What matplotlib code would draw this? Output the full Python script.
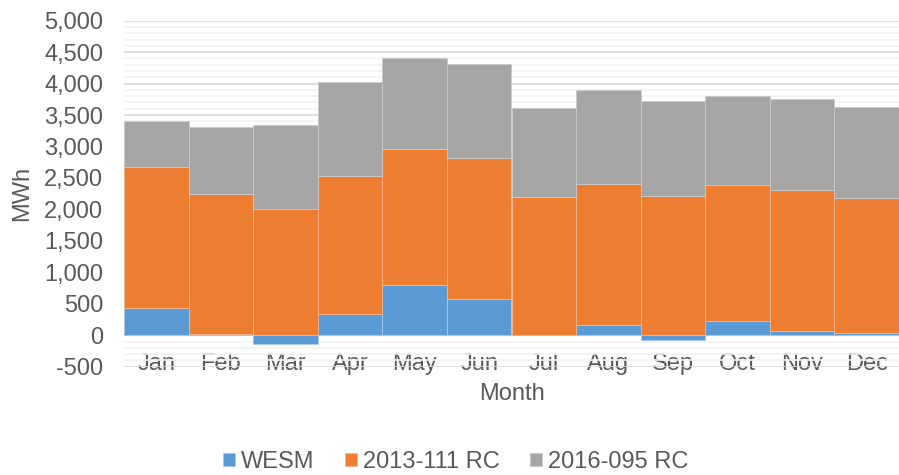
import numpy as np
import matplotlib
matplotlib.use('Agg')
import matplotlib.pyplot as plt
from matplotlib.ticker import FuncFormatter, MultipleLocator

months = ['Jan', 'Feb', 'Mar', 'Apr', 'May', 'Jun', 'Jul', 'Aug', 'Sep', 'Oct', 'Nov', 'Dec']
wesm = [430, 15, -140, 330, 795, 580, 10, 170, -75, 220, 75, 40]
rc_2013 = [2240, 2235, 2010, 2200, 2165, 2230, 2180, 2240, 2220, 2170, 2235, 2145]
rc_2016 = [740, 1060, 1330, 1490, 1440, 1500, 1430, 1485, 1500, 1415, 1440, 1440]

plt.rcParams['font.family'] = ['Liberation Sans', 'DejaVu Sans']
text_color = '#595959'
fs = 17

fig = plt.figure(figsize=(8.99, 4.75), dpi=100)
ax = fig.add_axes([124 / 899, 1 - 366.7 / 475, 775 / 899, 346 / 475])

x = np.arange(len(months))
wesm_arr = np.array(wesm)
base = np.maximum(wesm_arr, 0)

ax.bar(x, wesm, width=1.0, color='#5B9BD5', edgecolor='#A9C8E8', linewidth=0.6, label='WESM', zorder=3)
ax.bar(x, rc_2013, width=1.0, bottom=base, color='#ED7D31', edgecolor='#F3B58E', linewidth=0.6,
       label='2013-111 RC', zorder=3)
ax.bar(x, rc_2016, width=1.0, bottom=base + np.array(rc_2013), color='#A5A5A5', edgecolor='#CACACA',
       linewidth=0.6, label='2016-095 RC', zorder=3)

ax.set_xlim(-0.5, len(months) - 0.5)
ax.set_ylim(-500, 5000)
ax.yaxis.set_major_locator(MultipleLocator(500))
ax.yaxis.set_minor_locator(MultipleLocator(100))
ax.yaxis.set_major_formatter(FuncFormatter(lambda v, p: f'{int(v):,}'))
ax.grid(axis='y', which='minor', color='#F2F2F2', linewidth=1.2, zorder=0)
ax.grid(axis='y', which='major', color='#D9D9D9', linewidth=1.2, zorder=1)

for s in ax.spines.values():
    s.set_visible(False)
ax.spines['bottom'].set_position(('data', 0))

ax.set_xticks(x)
ax.set_xticklabels(months)
ax.tick_params(axis='x', length=0, pad=13, labelsize=fs, labelcolor=text_color)
ax.tick_params(axis='y', which='both', length=0, pad=15, labelsize=fs, labelcolor=text_color)

fig.text(22 / 899, 1 - 193 / 475, 'MWh', rotation=90, ha='center', va='center',
         fontsize=fs, color=text_color)
fig.text(512 / 899, 1 - 394 / 475, 'Month', ha='center', va='center',
         fontsize=fs, color=text_color)

leg = fig.legend(loc='center', bbox_to_anchor=(456 / 899, 1 - 462 / 475), ncol=3, frameon=False,
                 fontsize=fs, handlelength=0.5, handleheight=0.5, handletextpad=0.25,
                 columnspacing=1.3, labelcolor=text_color)

fig.savefig('out.png', dpi=100)
